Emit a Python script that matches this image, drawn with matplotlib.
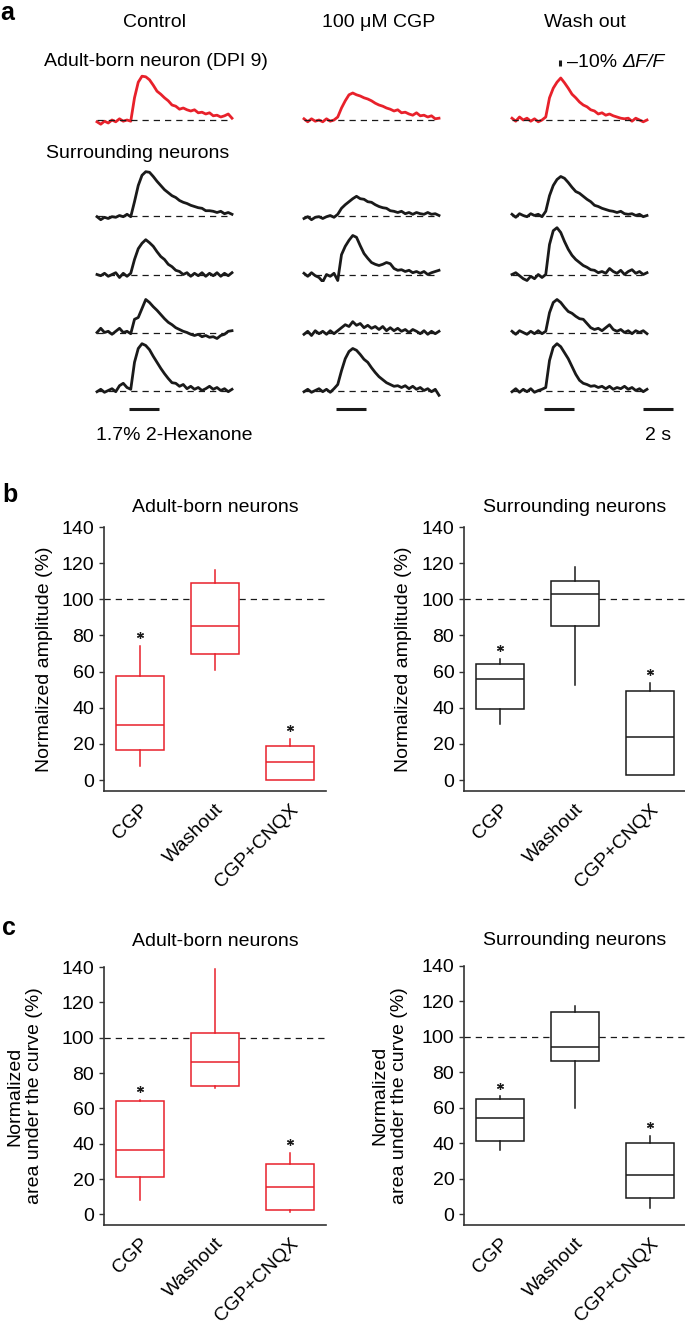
import numpy as np
import matplotlib.pyplot as plt
from matplotlib.transforms import ScaledTranslation

plt.rcParams['font.family'] = ['Liberation Sans', 'DejaVu Sans']
plt.rcParams['font.size'] = 14

RED = '#e8212b'
BLACK = '#1a1a1a'

# === PANEL a: odor responses, -dF/F (%), one sample every 0.25 s ===
time_s = np.linspace(0, 9, 37)
odor_on, odor_off = 2.15, 4.15

column_titles = ['Control', '100 \u03bcM CGP', 'Wash out']

adult_control = [-3, -7, -2, -5, 0, -3, 2, -2, 0, -2, 37, 63, 73, 72, 67, 58, 48, 43, 37,
                 32, 25, 23, 18, 20, 17, 15, 17, 12, 13, 10, 12, 7, 8, 5, 7, 10, 3]
adult_cgp = [2, -3, 2, -2, 0, -3, 2, -2, 0, 5, 20, 32, 42, 45, 42, 40, 37, 35, 32,
             28, 25, 23, 20, 18, 15, 17, 12, 13, 10, 8, 12, 7, 8, 5, 7, 2, 3]
adult_wash = [3, -2, 5, 0, 3, -2, 2, -3, 0, 5, 37, 53, 63, 70, 62, 53, 43, 37, 30,
              25, 22, 17, 15, 10, 12, 8, 10, 7, 5, 3, 2, 3, -2, 3, 0, -3, 0]

surround_control = [
    [-2, -7, -3, -5, -2, -3, 0, -2, 2, -2, 23, 50, 67, 73, 72, 65, 57, 50, 43,
     38, 33, 30, 25, 22, 20, 17, 15, 13, 12, 8, 8, 7, 5, 7, 3, 5, 2],
    [0, -2, 2, -3, 0, 3, -5, 2, -3, 2, 25, 43, 52, 58, 53, 47, 38, 30, 25,
     17, 13, 7, 5, 0, 3, -3, 2, -2, 3, -3, 2, -2, 3, -3, 2, -2, 3],
    [0, 7, 0, 2, -3, 2, 7, 0, 2, -2, 22, 25, 40, 55, 50, 43, 37, 30, 23,
     17, 13, 8, 5, 2, 0, -3, -5, -3, -7, -5, -8, -7, -10, -5, -3, 2, 3],
    [-2, 2, -3, 0, 3, -2, 8, 12, 5, 2, 47, 70, 78, 75, 68, 57, 47, 37, 28,
     20, 13, 12, 7, 10, 3, 7, 2, 5, 0, 3, 7, 2, 5, 0, 3, -2, 2],
]
surround_cgp = [
    [-5, -2, -7, -3, -2, -5, -2, 0, -3, 2, 12, 18, 23, 28, 32, 28, 27, 23, 22,
     18, 15, 13, 12, 8, 7, 5, 7, 3, 5, 2, 5, 3, 2, 5, 2, 3, 0],
    [2, -3, 3, -2, -5, -12, 0, -3, 2, -10, 33, 47, 57, 65, 62, 48, 35, 27, 20,
     17, 15, 17, 20, 18, 10, 7, 8, 5, 7, 3, 5, 2, 5, 0, 3, 5, 7],
    [-3, 2, -5, 3, -2, 2, -3, 3, -2, 3, 8, 13, 10, 18, 12, 15, 8, 12, 7,
     10, 5, 10, 3, 8, 3, 7, 2, 5, 0, 5, 2, -2, 3, -3, 2, -2, 2],
    [-2, 2, -3, 0, 3, -2, 2, -3, 3, 10, 33, 53, 65, 70, 67, 60, 52, 47, 38,
     30, 23, 18, 13, 10, 7, 8, 5, 8, 3, 7, 2, 5, 0, 3, -2, 2, -8],
]
surround_wash = [
    [2, -3, 3, 0, -2, 3, 0, 2, -2, 7, 33, 50, 60, 65, 62, 55, 47, 40, 37,
     32, 27, 23, 17, 15, 12, 10, 8, 7, 5, 7, 3, 2, 3, 0, 2, -2, 0],
    [0, 3, -2, -7, -10, -3, -7, 0, -5, 0, 50, 73, 78, 70, 55, 42, 32, 25, 20,
     15, 12, 8, 7, 3, 5, 2, 10, 5, 2, 7, 0, 5, 8, 2, 5, 0, 3],
    [2, -3, 3, 0, -3, 2, -2, 3, -2, 2, 33, 50, 55, 50, 42, 35, 32, 27, 23,
     22, 15, 8, 5, 7, 3, 8, 13, 5, 2, 5, 0, 3, -2, 3, 0, 3, -2],
    [-2, 3, -3, 2, -2, 3, -3, 0, 2, 5, 50, 72, 78, 73, 63, 53, 40, 27, 17,
     12, 10, 7, 8, 5, 7, 3, 7, 2, 5, 3, 7, 2, 5, 0, 3, -2, 2],
]

# === PANELS b, c: normalized to control (%) ===
conditions = ['CGP', 'Washout', 'CGP+CNQX']
significant = [True, False, True]

amp_adult_lo = [8, 61, 0]
amp_adult_q1 = [16.5, 70, 0]
amp_adult_med = [30.5, 85, 10]
amp_adult_q3 = [57.5, 109, 19]
amp_adult_hi = [74, 116, 23]

amp_surr_lo = [31, 52.5, 3]
amp_surr_q1 = [39.5, 85, 3]
amp_surr_med = [56, 103, 24]
amp_surr_q3 = [64, 110, 49.5]
amp_surr_hi = [67, 118, 54]

auc_adult_lo = [8, 71.5, 1.5]
auc_adult_q1 = [21.3, 72.7, 2.5]
auc_adult_med = [36.3, 86, 15.3]
auc_adult_q3 = [64, 102.6, 28.7]
auc_adult_hi = [65, 139, 35]

auc_surr_lo = [36, 60, 3.5]
auc_surr_q1 = [41.5, 86.5, 9.3]
auc_surr_med = [54.5, 94.5, 22]
auc_surr_q3 = [65, 114, 40.2]
auc_surr_hi = [66.5, 117.5, 44.4]

# === FIGURE (layout in pixels) ===
W, H = 685, 1337
fig = plt.figure(figsize=(W / 100, H / 100), dpi=100)


def px_axes(left, top, width, height):
    return fig.add_axes([left / W, 1 - (top + height) / H, width / W, height / H])


def px_text(x, y, s, **kw):
    return fig.text(x / W, 1 - y / H, s, **kw)


# --- panel a ---
px_text(0, 1, 'a', fontsize=18, fontweight='bold', va='top')
col_start = [97, 304, 512]
title_x = [154, 379, 585]
row_base = [120, 215.5, 274.5, 332.5, 390.5]
px_s, px_pct = 15, 0.6
ymin, ymax = -13, 84

for ci, (adult, surround) in enumerate(zip([adult_control, adult_cgp, adult_wash],
                                           [surround_control, surround_cgp, surround_wash])):
    px_text(title_x[ci], 27, column_titles[ci], ha='center', va='baseline')
    for ri, trace in enumerate([adult] + surround):
        ax = px_axes(col_start[ci] - 0.2 * px_s, row_base[ri] - ymax * px_pct,
                     9.4 * px_s, (ymax - ymin) * px_pct)
        ax.set_xlim(-0.2, 9.2)
        ax.set_ylim(ymin, ymax)
        ax.axis('off')
        ax.plot(time_s, trace, color=RED if ri == 0 else BLACK, lw=2.0, zorder=2)
        ax.plot([0, 9], [0, 0], color=BLACK, lw=0.9, ls=(0, (5, 4)), zorder=3)
        if ri == 4:
            ax.plot([odor_on, odor_off], [-31.5, -31.5], color=BLACK, lw=2.2,
                    solid_capstyle='butt', clip_on=False)
            if ci == 2:
                ax.plot([8.7, 10.7], [-31.5, -31.5], color=BLACK, lw=2.2,
                        solid_capstyle='butt', clip_on=False)
        if ri == 0 and ci == 2:
            ax.plot([3.2, 3.2], [90, 100], color=BLACK, lw=2.2,
                    solid_capstyle='butt', clip_on=False)
            t1 = ax.text(3.65, 88, '\u201310% ', ha='left', va='baseline', clip_on=False)
            ax.annotate('\u0394F/F', xy=(1, 0), xycoords=t1, ha='left', va='bottom',
                        fontstyle='italic')

px_text(44, 66, 'Adult-born neuron (DPI 9)', va='baseline')
px_text(46, 158, 'Surrounding neurons', va='baseline')
px_text(96, 440, '1.7% 2-Hexanone', va='baseline')
px_text(658, 440, '2 s', ha='center', va='baseline')


# --- panels b and c ---
def box_panel(ax, lo, q1, med, q3, hi, color, title, ylabel, title_pad, label_x):
    stats = [dict(whislo=a, q1=b, med=c, q3=d, whishi=e, fliers=[])
             for a, b, c, d, e in zip(lo, q1, med, q3, hi)]
    ax.axhline(100, color=BLACK, lw=0.9, ls=(0, (5, 4)), zorder=1)
    ax.bxp(stats, positions=[1, 2, 3], widths=0.63, showcaps=False, showfliers=False,
           patch_artist=True, zorder=2,
           boxprops=dict(facecolor='white', edgecolor=color, linewidth=1.1),
           medianprops=dict(color=color, linewidth=1.1),
           whiskerprops=dict(color=color, linewidth=1.1))
    for pos, top, sig in zip([1, 2, 3], hi, significant):
        if sig:
            ax.plot(pos, top + 6, marker=(6, 2, 0), ms=5, mew=0.9, color=BLACK)
    ax.set_xlim(0.52, 3.48)
    ax.set_ylim(-6, 140)
    ax.set_yticks(range(0, 141, 20))
    ax.set_xticks([1, 2, 3])
    ax.set_xticklabels(conditions, rotation=45, ha='right', va='top',
                       rotation_mode='anchor')
    shift = ScaledTranslation(0.05, 0, fig.dpi_scale_trans)
    for lab in ax.get_xticklabels():
        lab.set_transform(lab.get_transform() + shift)
    ax.tick_params(axis='x', length=0, pad=7)
    ax.tick_params(axis='y', length=3.5, width=1, pad=3.5, color='#333333')
    for side in ['top', 'right']:
        ax.spines[side].set_visible(False)
    for side in ['left', 'bottom']:
        ax.spines[side].set_linewidth(1.2)
        ax.spines[side].set_color('#333333')
    ax.set_title(title, pad=title_pad, fontsize=14)
    ax.set_ylabel(ylabel)
    ax.yaxis.set_label_coords(label_x, 0.5)


px_text(2, 502, 'b', fontsize=18, fontweight='bold')
px_text(2, 935, 'c', fontsize=18, fontweight='bold')

ax = px_axes(104, 527, 222, 264)
box_panel(ax, amp_adult_lo, amp_adult_q1, amp_adult_med, amp_adult_q3, amp_adult_hi,
          RED, 'Adult-born neurons', 'Normalized amplitude (%)', 11, -0.23)
ax = px_axes(464, 527, 222, 264)
box_panel(ax, amp_surr_lo, amp_surr_q1, amp_surr_med, amp_surr_q3, amp_surr_hi,
          BLACK, 'Surrounding neurons', 'Normalized amplitude (%)', 11, -0.234)
ax = px_axes(104, 967, 222, 258)
box_panel(ax, auc_adult_lo, auc_adult_q1, auc_adult_med, auc_adult_q3, auc_adult_hi,
          RED, 'Adult-born neurons', 'Normalized\narea under the curve (%)', 15, -0.275)
ax = px_axes(464, 966, 222, 259)
box_panel(ax, auc_surr_lo, auc_surr_q1, auc_surr_med, auc_surr_q3, auc_surr_hi,
          BLACK, 'Surrounding neurons', 'Normalized\narea under the curve (%)', 15, -0.252)

fig.savefig('out.png', dpi=100)
